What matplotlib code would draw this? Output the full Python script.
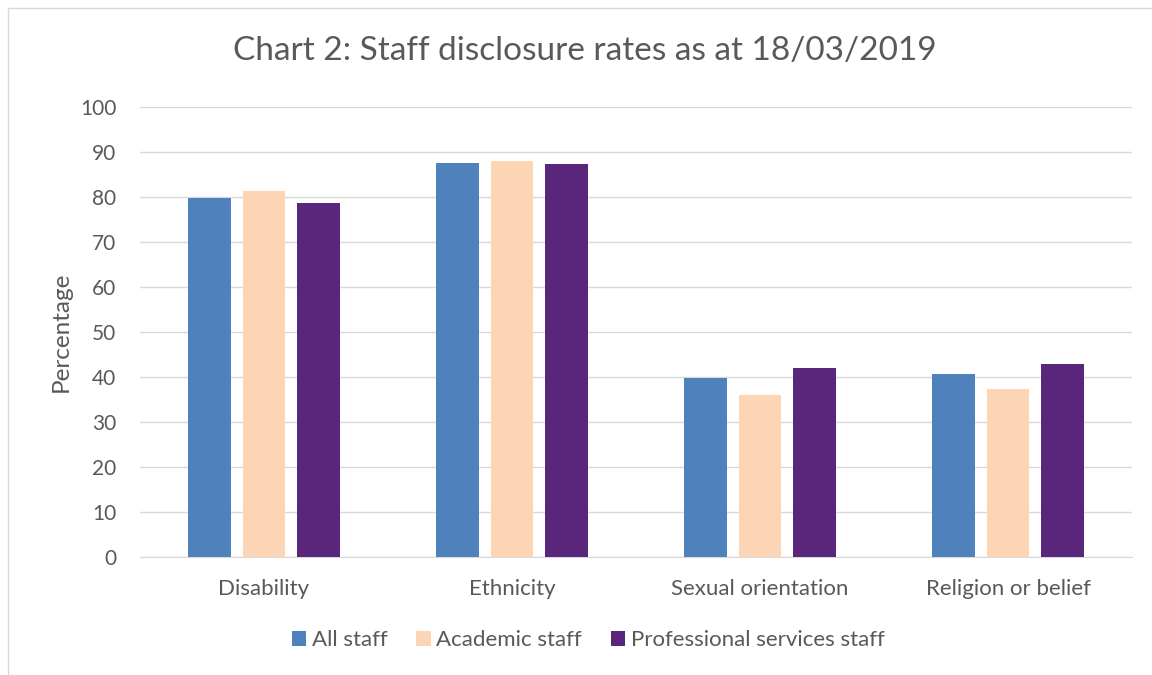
import matplotlib.pyplot as plt
import numpy as np
from matplotlib.patches import Rectangle

categories = ['Disability', 'Ethnicity', 'Sexual orientation', 'Religion or belief']
all_staff = [79.7, 87.5, 39.7, 40.6]
academic_staff = [81.3, 88.0, 36.0, 37.3]
professional_staff = [78.6, 87.3, 42.1, 42.8]
series_names = ['All staff', 'Academic staff', 'Professional services staff']
colors = ['#4F81BD', '#FCD5B4', '#59267C']

plt.rcParams['font.family'] = ['Lato', 'DejaVu Sans']
text_col = '#595959'

fig = plt.figure(figsize=(11.52, 6.75), dpi=100)
ax = fig.add_axes([140/1152, 118/675, 992/1152, 450/675])

# light chart border like the office chart frame
fig.patches.append(Rectangle((8/1152, -0.1), 1.2, (667/675) + 0.1, transform=fig.transFigure,
                             fill=False, edgecolor='#D9D9D9', linewidth=1))

x = np.arange(len(categories))
w = 0.173
off = 0.218
for i, (vals, name) in enumerate(zip([all_staff, academic_staff, professional_staff], series_names)):
    ax.bar(x + (i - 1) * off, vals, w, color=colors[i], label=name, zorder=3)

ax.set_xlim(-0.5, 3.5)
ax.set_ylim(0, 100)
ax.set_yticks(range(0, 101, 10))
ax.yaxis.grid(True, color='#D9D9D9', linewidth=1, zorder=0)
for s in ['top', 'right', 'left']:
    ax.spines[s].set_visible(False)
ax.spines['bottom'].set_color('#D9D9D9')
ax.tick_params(axis='both', length=0, labelsize=16, colors=text_col)
ax.tick_params(axis='y', labelsize=15, pad=17)
ax.tick_params(axis='x', pad=16)
ax.set_xticks(x)
ax.set_xticklabels(categories)
ax.set_ylabel('Percentage', fontsize=17.5, color=text_col, labelpad=6)

fig.text(585/1152, 1 - 51/675, 'Chart 2: Staff disclosure rates as at 18/03/2019',
         ha='center', va='center', fontsize=24, color=text_col)

fig.legend(loc='center', bbox_to_anchor=(588/1152, 1 - 640/675), ncol=3, frameon=False,
           fontsize=16, labelcolor=text_col, handlelength=0.65, handleheight=0.65,
           handletextpad=0.25, columnspacing=1.3)

fig.savefig('out.png', dpi=100)
